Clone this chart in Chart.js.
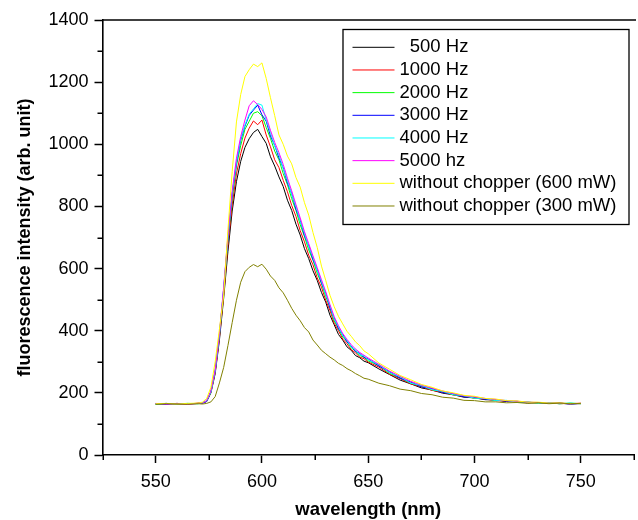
<!DOCTYPE html>
<html>
<head>
<meta charset="utf-8">
<script src="https://cdn.jsdelivr.net/npm/chart.js@4.4.0/dist/chart.umd.min.js"></script>
<style>
html,body{margin:0;padding:0;background:#fff;overflow:hidden}
#wrap{width:642px;height:520px}
</style>
</head>
<body>
<div id="wrap"><canvas id="chart" width="642" height="520"></canvas></div>
<script>

// wavelength grid (nm)
const wl=[550,555,560,565,570,
572,574,576,578,580,582,584,586,588,590,592,594,596,598,600,
602,604,606,608,610,612,614,616,618,620,
622,624,626,628,630,632,634,636,638,640,
642,644,646,648,650,
655,660,665,670,675,680,685,690,695,700,705,710,715,720,725,730,735,740,745,750]

const s500=[164,166,163,165,166,
167,172,200,262,370,505,655,785,880,945,990,1018,1038,1048,1025,
1003,960,930,895,864,820,787,743,708,664,
632,593,562,523,492,450,419,388,370,348,
337,320,313,302,297,
277,259,241,229,216,209,199,194,186,184,178,177,172,172,168,169,166,167,164,166]

const s1000=[165,164,166,164,167,
168,173,203,266,378,516,674,804,905,970,1020,1052,1075,1063,1078,
1030,992,950,925,884,847,803,768,722,686,
643,612,570,540,498,465,424,400,373,358,
339,329,315,310,299,
283,260,246,229,220,208,202,193,189,183,180,175,174,170,170,167,168,165,166,165]

const s2000=[163,165,165,166,165,
168,174,203,270,385,527,690,826,931,996,1048,1074,1100,1105,1092,
1054,1019,978,950,906,870,825,787,741,703,
660,627,585,552,510,475,432,407,380,365,
345,335,320,315,303,
288,263,249,231,223,210,204,194,190,183,181,176,175,170,170,167,168,165,167,165]

const s3000=[165,163,166,164,166,
167,173,205,271,386,536,695,840,939,1013,1058,1093,1110,1126,1095,
1074,1027,996,956,924,875,841,791,755,706,
673,629,597,553,521,473,441,406,388,364,
351,333,327,314,309,
286,268,247,235,219,214,201,197,187,186,179,178,173,173,168,169,166,167,164,166]

const s4000=[164,166,164,166,165,
169,174,203,272,389,535,700,843,943,1017,1062,1097,1114,1131,1126,
1078,1038,994,966,922,884,838,800,752,714,
669,637,593,560,516,481,437,413,383,370,
347,339,322,320,306,
291,265,252,231,224,210,205,194,191,183,182,175,176,170,171,167,168,165,167,165]

const s5000=[166,164,165,163,166,
168,175,206,274,392,541,706,849,955,1025,1078,1124,1140,1128,1112,
1088,1045,1006,973,935,891,850,806,763,719,
680,641,603,564,526,484,445,416,391,372,
355,341,330,321,312,
292,270,253,237,225,215,206,198,191,187,182,179,175,173,170,169,167,167,165,167]

const s600mW=[165,166,164,166,167,
170,182,218,300,405,515,725,912,1072,1160,1218,1240,1258,1250,1262,
1212,1150,1092,1030,1000,962,937,893,862,812,
772,716,668,608,562,514,477,446,422,398,
382,364,352,335,326,
296,276,256,242,227,218,206,200,192,189,182,180,175,174,170,170,167,168,165,167]

const s300mW=[163,165,164,163,165,
164,166,171,188,232,282,352,426,498,556,590,604,613,606,614,
598,576,562,538,522,498,472,450,432,410,
396,370,354,337,326,315,306,295,288,278,
271,262,255,247,244,
231,223,212,207,198,194,186,183,176,175,171,171,168,169,166,168,165,167,165,166]

const names=["  500 Hz","1000 Hz","2000 Hz","3000 Hz","4000 Hz","5000 hz","without chopper (600 mW)","without chopper (300 mW)"]
const series=[s500,s1000,s2000,s3000,s4000,s5000,s600mW,s300mW]
const colors=["#000000","#ff0000","#00ff00","#0000ff","#00ffff","#ff00ff","#ffff00","#808000"]

const FONT="'Liberation Sans', Arial, Helvetica, sans-serif"
Chart.defaults.font.family=FONT
Chart.defaults.font.size=18
Chart.defaults.color="#000"

// minor ticks, top frame line and the boxed legend
const extras={
id:"extras",
afterDraw(chart){
const ctx=chart.ctx
const a=chart.chartArea
const x=chart.scales.x
const y=chart.scales.y
ctx.save()
ctx.strokeStyle="#000"
ctx.lineWidth=1.5
x.ticks.forEach(t=>{
if(t.value%50!==0){
const px=Math.round(x.getPixelForValue(t.value))+0.25
ctx.beginPath();ctx.moveTo(px,a.bottom);ctx.lineTo(px,a.bottom+5);ctx.stroke()
}
})
y.ticks.forEach(t=>{
if(t.value%200!==0){
const py=Math.round(y.getPixelForValue(t.value))+0.25
ctx.beginPath();ctx.moveTo(a.left-5,py);ctx.lineTo(a.left,py);ctx.stroke()
}
})
ctx.lineWidth=1.6
ctx.beginPath();ctx.moveTo(a.left,a.top);ctx.lineTo(a.right+2,a.top);ctx.stroke()

// legend
const bx=a.left+240,by=a.top+9,bw=286,bh=195
ctx.lineWidth=1.3
ctx.strokeRect(bx+0.5,by+0.5,bw,bh)
ctx.font="18.5px "+FONT
ctx.textBaseline="middle"
ctx.textAlign="left"
names.forEach((n,i)=>{
const ry=by+18.3+i*22.67
ctx.strokeStyle=colors[i]
ctx.lineWidth=1
ctx.beginPath();ctx.moveTo(bx+10,ry);ctx.lineTo(bx+52,ry);ctx.stroke()
ctx.fillStyle="#000"
ctx.fillText(n,bx+57,ry)
})
ctx.restore()
}
}

new Chart(document.getElementById("chart"),{
type:"line",
data:{
datasets:names.map((n,i)=>({
label:n,
data:wl.map((w,j)=>({x:w,y:series[i][j]})),
borderColor:colors[i],
borderWidth:1,
pointRadius:0,
fill:false,
tension:0,
order:names.length-i
}))
},
options:{
responsive:false,
animation:false,
layout:{padding:{top:20,right:1,left:0,bottom:0}},
plugins:{legend:{display:false},tooltip:{enabled:false}},
scales:{
x:{
type:"linear",min:525,max:775,
afterFit:s=>{s.height=65},
ticks:{stepSize:25,autoSkip:false,maxRotation:0,padding:8,
callback:v=>(v%50===0&&v>525&&v<775)?v:""},
grid:{drawOnChartArea:false,tickLength:8,tickWidth:1.5,
tickColor:c=>(c.tick&&c.tick.value%50===0)?"#000":"rgba(0,0,0,0)"},
border:{color:"#000",width:1.6},
title:{display:true,text:"wavelength (nm)",font:{weight:"bold",size:18.5},padding:{top:0,bottom:-1}}
},
y:{
min:0,max:1400,
afterFit:s=>{s.width=102.5},
ticks:{stepSize:100,autoSkip:false,padding:6,
callback:v=>(v%200===0)?v:""},
grid:{drawOnChartArea:false,tickLength:8,tickWidth:1.5,
tickColor:c=>(c.tick&&c.tick.value%200===0)?"#000":"rgba(0,0,0,0)"},
border:{color:"#000",width:1.6},
title:{display:true,text:"fluorescence intensity (arb. unit)",font:{weight:"bold",size:18},padding:{top:14,bottom:0}}
}
}
},
plugins:[extras]
})

</script>
</body>
</html>
